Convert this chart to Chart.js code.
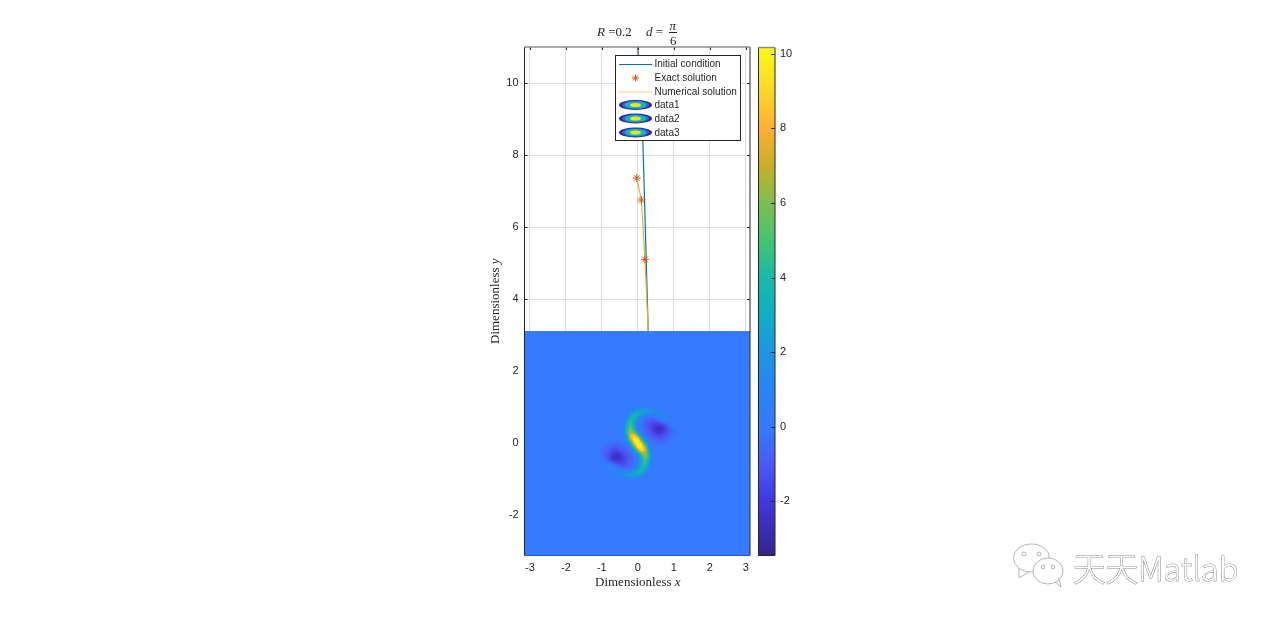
<!DOCTYPE html>
<html>
<head>
<meta charset="utf-8">
<title>R = 0.2, d = pi/6</title>
<script src="https://cdn.jsdelivr.net/npm/chart.js@4/dist/chart.umd.min.js"></script>
<style>
  html, body { margin: 0; padding: 0; background: #fff; overflow: hidden; }
  #main { position: absolute; left: 0; top: 0; }
  #bar { position: absolute; left: 745px; top: 0; }
</style>
</head>
<body>
<canvas id="main" width="1280" height="625"></canvas>
<canvas id="bar" width="60" height="625"></canvas>
<script>
// Axis ticks
const xTicks = [-3, -2, -1, 0, 1, 2, 3];
const yTicks = [-2, 0, 2, 4, 6, 8, 10];
const barTicks = [-2, 0, 2, 4, 6, 8, 10];

// Curves
const initialX = [0.0, 0.14, 0.29];
const initialY = [11, 8.42, 3.11];
const exactX = [-0.03, 0.1, 0.2];
const exactY = [7.36, 6.75, 5.1];
const numericalX = [-0.03, 0.1, 0.2, 0.29];
const numericalY = [7.36, 6.75, 5.1, 3.11];
const contourLabels = ['data1', 'data2', 'data3'];

// Colour scale of the field, value / colour
const colorValues = [-3.45, -2, -1, 0, 1, 2, 3, 4, 5, 6, 7, 8, 9, 10.17];
const colorStops = [
  [53, 35, 140], [65, 55, 220], [75, 90, 245], [53, 122, 255], [40, 132, 245], [30, 150, 225], [15, 175, 195],
  [25, 185, 170], [70, 195, 115], [125, 190, 80], [200, 175, 40], [253, 175, 55], [250, 215, 40], [250, 250, 20]
];

// Field values, rows from y=1 to y=-1, columns from x=-1.1 to x=1.1. Zero everywhere else.
const fieldX = [-1.1, -1, -0.9, -0.8, -0.7, -0.6, -0.5, -0.4, -0.3, -0.2, -0.1, 0, 0.1, 0.2, 0.3, 0.4, 0.5, 0.6, 0.7, 0.8, 0.9, 1, 1.1];
const fieldY = [1, 0.9, 0.8, 0.7, 0.6, 0.5, 0.4, 0.3, 0.2, 0.1, 0, -0.1, -0.2, -0.3, -0.4, -0.5, -0.6, -0.7, -0.8, -0.9, -1];
const fieldRows = [
  [0, 0, 0, 0, 0, 0, 0, 0, 0, 0, 0.2, 0.5, 0.7, 0.7, 0.5, 0.3, 0.1, 0, 0, 0, 0, 0, 0],
  [0, 0, 0, 0, 0, 0, 0, 0, 0, 0.4, 1.5, 2.6, 2.8, 2.6, 2.2, 1.8, 1.2, 0.5, 0.2, 0, 0, 0, 0],
  [0, 0, 0, 0, 0, 0, 0, 0, 0.2, 1.8, 3.6, 3.6, 2.4, 1.5, 1.1, 1, 1.2, 1.4, 0.7, 0.2, 0, 0, 0],
  [0, 0, 0, 0, 0, 0, 0, 0, 1, 3.5, 4, 2, 0.3, -0.3, -0.5, -0.5, -0.3, 0.3, 1, 0.9, 0.3, 0, 0],
  [0, 0, 0, 0, 0, 0, 0, 0.2, 2.2, 4.5, 3, 0.8, -0.2, -0.6, -1, -1.2, -1.2, -0.9, -0.2, 0.4, 0.5, 0.1, 0],
  [0, 0, 0, 0, 0, 0, 0, 0.4, 3.2, 5, 2.5, 0.4, -0.3, -0.8, -1.2, -1.6, -1.9, -1.9, -1.6, -1, -0.2, 0.2, 0],
  [0, 0, 0, 0, 0, 0, 0, 0.6, 4, 5.8, 3, 0.6, -0.3, -0.8, -1.2, -1.7, -2.3, -2.8, -2.2, -1.4, -0.7, -0.1, 0],
  [0, 0, 0, 0, 0, 0, 0, 0.8, 4, 7, 5.5, 2, 0.2, -0.6, -1, -1.4, -1.9, -2.2, -1.8, -1.3, -0.8, -0.3, 0],
  [0, 0, 0, 0, 0, 0, 0, 0.5, 3, 8, 9.5, 6, 1.5, -0.2, -0.7, -1, -1.2, -1.5, -1.3, -1, -0.6, -0.2, 0],
  [0, 0, 0, 0, 0, 0, 0, 0.1, 1.5, 7, 10, 10, 5, 1, -0.2, -0.5, -0.8, -1, -0.9, -0.6, -0.3, 0, 0],
  [0, 0, 0, -0.2, -0.3, -0.4, -0.3, -0.1, 0.5, 3, 9, 10.2, 9, 3, 0.5, -0.1, -0.3, -0.4, -0.3, -0.2, 0, 0, 0],
  [0, 0, -0.3, -0.6, -0.9, -1, -0.8, -0.5, -0.2, 1, 5, 10, 10, 7, 1.5, 0.1, 0, 0, 0, 0, 0, 0, 0],
  [0, -0.2, -0.6, -1, -1.3, -1.5, -1.2, -1, -0.7, -0.2, 1.5, 6, 9.5, 8, 3, 0.5, 0, 0, 0, 0, 0, 0, 0],
  [0, -0.3, -0.8, -1.3, -1.8, -2.2, -1.9, -1.4, -1, -0.6, 0.2, 2, 5.5, 7, 4, 0.8, 0, 0, 0, 0, 0, 0, 0],
  [0, -0.1, -0.7, -1.4, -2.2, -2.8, -2.3, -1.7, -1.2, -0.8, -0.3, 0.6, 3, 5.8, 4, 0.6, 0, 0, 0, 0, 0, 0, 0],
  [0, 0.2, -0.2, -1, -1.6, -1.9, -1.9, -1.6, -1.2, -0.8, -0.3, 0.4, 2.5, 5, 3.2, 0.4, 0, 0, 0, 0, 0, 0, 0],
  [0, 0.1, 0.5, 0.4, -0.2, -0.9, -1.2, -1.2, -1, -0.6, -0.2, 0.8, 3, 4.5, 2.2, 0.2, 0, 0, 0, 0, 0, 0, 0],
  [0, 0, 0.3, 0.9, 1, 0.3, -0.3, -0.5, -0.5, -0.3, 0.3, 2, 4, 3.5, 1, 0, 0, 0, 0, 0, 0, 0, 0],
  [0, 0, 0, 0.2, 0.7, 1.4, 1.2, 1, 1.1, 1.5, 2.4, 3.6, 3.6, 1.8, 0.2, 0, 0, 0, 0, 0, 0, 0, 0],
  [0, 0, 0, 0, 0.2, 0.5, 1.2, 1.8, 2.2, 2.6, 2.8, 2.6, 1.5, 0.4, 0, 0, 0, 0, 0, 0, 0, 0, 0],
  [0, 0, 0, 0, 0, 0, 0.1, 0.3, 0.5, 0.7, 0.7, 0.5, 0.2, 0, 0, 0, 0, 0, 0, 0, 0, 0, 0]
];

const FIELD_TOP = 3.11;
const SANS = '"Liberation Sans", Arial, sans-serif';
const SERIF = '"Liberation Serif", "DejaVu Serif", serif';
const INK = '#262626';

function pairs(xs, ys) {
  return xs.map((x, i) => ({ x: x, y: ys[i] }));
}

function colorFor(v) {
  let i = 0;
  while (i < colorValues.length - 2 && v > colorValues[i + 1]) i++;
  const t = Math.max(0, Math.min(1, (v - colorValues[i]) / (colorValues[i + 1] - colorValues[i])));
  const a = colorStops[i], b = colorStops[i + 1];
  return `rgb(${a[0] + (b[0] - a[0]) * t | 0},${a[1] + (b[1] - a[1]) * t | 0},${a[2] + (b[2] - a[2]) * t | 0})`;
}

// Bilinear lookup in the field table
function fieldValue(x, y) {
  const fx = (x - fieldX[0]) / 0.1, fy = (fieldY[0] - y) / 0.1;
  const c = Math.floor(fx), r = Math.floor(fy);
  if (c < 0 || r < 0 || c >= fieldX.length - 1 || r >= fieldY.length - 1) return 0;
  const tx = fx - c, ty = fy - r;
  const top = fieldRows[r][c] * (1 - tx) + fieldRows[r][c + 1] * tx;
  const bot = fieldRows[r + 1][c] * (1 - tx) + fieldRows[r + 1][c + 1] * tx;
  return top * (1 - ty) + bot * ty;
}

// Mixed upright / italic text run, starts at x
function textRun(ctx, parts, x, y) {
  parts.forEach(p => {
    ctx.font = p[1];
    ctx.fillText(p[0], x, y);
    x += ctx.measureText(p[0]).width;
  });
}

const fieldPlugin = {
  id: 'field',
  beforeDatasetsDraw(chart) {
    const { ctx, chartArea: a, scales: { x, y } } = chart;
    ctx.save();
    const top = y.getPixelForValue(FIELD_TOP);
    ctx.fillStyle = colorFor(0);
    ctx.fillRect(a.left, top, a.width, a.bottom - top);
    const x0 = Math.floor(x.getPixelForValue(fieldX[0])), x1 = Math.ceil(x.getPixelForValue(fieldX[fieldX.length - 1]));
    const y0 = Math.floor(y.getPixelForValue(fieldY[0])), y1 = Math.ceil(y.getPixelForValue(fieldY[fieldY.length - 1]));
    for (let px = x0; px < x1; px++) {
      for (let py = y0; py < y1; py++) {
        ctx.fillStyle = colorFor(fieldValue(x.getValueForPixel(px + 0.5), y.getValueForPixel(py + 0.5)));
        ctx.fillRect(px, py, 1, 1);
      }
    }
    ctx.restore();
  }
};

const framePlugin = {
  id: 'frame',
  afterDatasetsDraw(chart) {
    const { ctx, chartArea: a, scales: { x, y } } = chart;
    const fieldTop = y.getPixelForValue(FIELD_TOP);
    ctx.save();
    ctx.lineWidth = 1;
    ctx.strokeStyle = INK;
    ctx.beginPath();
    xTicks.forEach(t => {
      const p = Math.round(x.getPixelForValue(t)) + 0.5;
      ctx.moveTo(p, a.top); ctx.lineTo(p, a.top + 3);
    });
    yTicks.forEach(t => {
      const p = Math.round(y.getPixelForValue(t)) + 0.5;
      if (p < fieldTop) {
        ctx.moveTo(a.left, p); ctx.lineTo(a.left + 3, p);
        ctx.moveTo(a.right, p); ctx.lineTo(a.right - 3, p);
      }
    });
    ctx.moveTo(a.left, a.top); ctx.lineTo(a.left, a.bottom);
    ctx.moveTo(a.right, a.top); ctx.lineTo(a.right, a.bottom);
    ctx.stroke();
    ctx.strokeStyle = '#1560e0';
    ctx.beginPath(); ctx.moveTo(a.left, a.bottom); ctx.lineTo(a.right, a.bottom); ctx.stroke();
    ctx.strokeStyle = '#8c8c8c';
    ctx.lineWidth = 1.5;
    ctx.beginPath(); ctx.moveTo(a.left, a.top); ctx.lineTo(a.right, a.top); ctx.stroke();
    ctx.restore();
  }
};

const legendPlugin = {
  id: 'boxLegend',
  afterDatasetsDraw(chart) {
    const { ctx } = chart;
    const rows = [64, 78, 91.5, 105, 118.5, 132.5];
    ctx.save();
    ctx.fillStyle = '#fff';
    ctx.strokeStyle = INK;
    ctx.lineWidth = 1;
    ctx.fillRect(615.5, 55.5, 125, 85);
    ctx.strokeRect(615.5, 55.5, 125, 85);
    chart.data.datasets.forEach((ds, i) => {
      const cy = rows[i];
      if (i === 0 || i === 2) {
        ctx.strokeStyle = i === 0 ? '#0072BD' : '#F5D080';
        ctx.lineWidth = 1;
        ctx.beginPath(); ctx.moveTo(619, cy + 0.5); ctx.lineTo(652, cy + 0.5); ctx.stroke();
      } else if (i === 1) {
        ctx.strokeStyle = '#D95319';
        ctx.beginPath();
        for (let k = 0; k < 4; k++) {
          const an = k * Math.PI / 4;
          ctx.moveTo(635.5 - 3.5 * Math.cos(an), cy - 3.5 * Math.sin(an));
          ctx.lineTo(635.5 + 3.5 * Math.cos(an), cy + 3.5 * Math.sin(an));
        }
        ctx.stroke();
      } else {
        [[16.5, 5, '#352a87'], [13.5, 4.2, '#2a5fe0'], [11, 3.5, '#14b8b8'], [5.5, 2, '#f5e614']].forEach(e => {
          ctx.fillStyle = e[2];
          ctx.beginPath(); ctx.ellipse(635.5, cy, e[0], e[1], 0, 0, Math.PI * 2); ctx.fill();
        });
      }
      ctx.fillStyle = INK;
      ctx.font = '10px ' + SANS;
      ctx.textAlign = 'left';
      ctx.textBaseline = 'middle';
      ctx.fillText(ds.label, 654.5, cy + 0.5);
    });
    ctx.restore();
  }
};

const textPlugin = {
  id: 'mathText',
  afterDraw(chart) {
    const { ctx } = chart;
    const up = '13px ' + SERIF, it = 'italic 13px ' + SERIF;
    ctx.save();
    ctx.fillStyle = INK;
    ctx.textBaseline = 'alphabetic';
    ctx.textAlign = 'left';
    // title
    textRun(ctx, [['R', it], [' =0.2', up]], 597, 36);
    textRun(ctx, [['d', it], [' =', up]], 646, 36);
    ctx.font = it;
    ctx.fillText('π', 669.5, 30);
    ctx.font = up;
    ctx.fillText('6', 670, 45);
    ctx.beginPath(); ctx.moveTo(669, 32.5); ctx.lineTo(677, 32.5); ctx.strokeStyle = INK; ctx.lineWidth = 1; ctx.stroke();
    // axis titles
    textRun(ctx, [['Dimensionless ', up], ['x', it]], 595, 586);
    ctx.translate(499, 344);
    ctx.rotate(-Math.PI / 2);
    textRun(ctx, [['Dimensionless ', up], ['y', it]], 0, 0);
    ctx.restore();
    drawWatermark(ctx);
  }
};

function drawWatermark(ctx) {
  ctx.save();
  ctx.strokeStyle = '#b5b5b5';
  ctx.fillStyle = '#fff';
  ctx.lineWidth = 1;
  // big bubble then small bubble, each with its tail
  ctx.beginPath();
  ctx.ellipse(1031.5, 558, 18, 14, 0, 0, Math.PI * 2);
  ctx.moveTo(1019, 568); ctx.lineTo(1019, 578); ctx.lineTo(1029, 572);
  ctx.fill(); ctx.stroke();
  ctx.beginPath();
  ctx.ellipse(1048, 571, 15, 13, 0, 0, Math.PI * 2);
  ctx.moveTo(1055, 582); ctx.lineTo(1061, 587); ctx.lineTo(1059, 578);
  ctx.fill(); ctx.stroke();
  [[1024, 554, 2], [1039, 554, 2], [1043, 567, 1.8], [1053, 567, 1.8]].forEach(e => {
    ctx.beginPath(); ctx.arc(e[0], e[1], e[2], 0, Math.PI * 2); ctx.stroke();
  });
  ctx.font = '300 32.5px "Noto Sans CJK SC", "Noto Sans", sans-serif';
  ctx.textAlign = 'left';
  ctx.textBaseline = 'alphabetic';
  ctx.lineWidth = 1;
  ctx.strokeStyle = '#8a8a8a';
  ctx.strokeText('天天Matlab', 1073, 581);
  ctx.fillText('天天Matlab', 1073, 581);
  ctx.restore();
}

new Chart(document.getElementById('main'), {
  type: 'scatter',
  data: {
    datasets: [
      { label: 'Initial condition', data: pairs(initialX, initialY), showLine: true, borderColor: '#0072BD', borderWidth: 1.2, pointRadius: 0, order: 3 },
      { label: 'Exact solution', data: pairs(exactX, exactY), showLine: false, pointStyle: 'star', pointRadius: 4, borderColor: '#D95319', borderWidth: 1, order: 1 },
      { label: 'Numerical solution', data: pairs(numericalX, numericalY), showLine: true, borderColor: '#EDB120', borderWidth: 1.2, pointRadius: 0, order: 2 },
      { label: contourLabels[0], data: [] },
      { label: contourLabels[1], data: [] },
      { label: contourLabels[2], data: [] }
    ]
  },
  options: {
    responsive: false,
    animation: false,
    devicePixelRatio: 1,
    layout: { autoPadding: false, padding: { left: 484.5, right: 530, top: 47, bottom: 39.5 } },
    plugins: { legend: { display: false }, title: { display: false }, tooltip: { enabled: false } },
    scales: {
      x: {
        type: 'linear', min: -3.15, max: 3.12,
        afterBuildTicks: s => { s.ticks = xTicks.map(v => ({ value: v })); },
        afterFit: s => { s.height = 30; },
        grid: { color: '#dedede', drawTicks: false },
        border: { display: false },
        ticks: { color: INK, font: { family: SANS, size: 11 }, padding: 6, maxRotation: 0 }
      },
      y: {
        type: 'linear', min: -3.125, max: 11,
        afterBuildTicks: s => { s.ticks = yTicks.map(v => ({ value: v })); },
        afterFit: s => { s.width = 40; },
        grid: { color: '#dedede', drawTicks: false },
        border: { display: false },
        ticks: { color: INK, font: { family: SANS, size: 11 }, padding: 6 }
      }
    }
  },
  plugins: [fieldPlugin, framePlugin, legendPlugin, textPlugin]
});

// Colour bar, a single floating bar over the whole range
const barFrame = {
  id: 'barFrame',
  afterDatasetsDraw(chart) {
    const { ctx, chartArea: a, scales: { y } } = chart;
    ctx.save();
    ctx.strokeStyle = INK;
    ctx.lineWidth = 1;
    ctx.beginPath();
    barTicks.forEach(t => {
      const p = Math.round(y.getPixelForValue(t)) + 0.5;
      ctx.moveTo(a.right, p); ctx.lineTo(a.right - 4, p);
    });
    ctx.moveTo(a.left, a.top); ctx.lineTo(a.left, a.bottom);
    ctx.moveTo(a.right, a.top); ctx.lineTo(a.right, a.bottom);
    ctx.moveTo(a.left, a.bottom); ctx.lineTo(a.right, a.bottom);
    ctx.stroke();
    ctx.strokeStyle = '#8c8c8c';
    ctx.lineWidth = 1.5;
    ctx.beginPath(); ctx.moveTo(a.left, a.top); ctx.lineTo(a.right, a.top); ctx.stroke();
    ctx.restore();
  }
};

new Chart(document.getElementById('bar'), {
  type: 'bar',
  data: {
    labels: ['value'],
    datasets: [{
      data: [[colorValues[0], colorValues[colorValues.length - 1]]],
      barPercentage: 1,
      categoryPercentage: 1,
      backgroundColor: c => {
        const area = c.chart.chartArea;
        const y = c.chart.scales.y;
        if (!area) return colorFor(0);
        const g = c.chart.ctx.createLinearGradient(0, area.bottom, 0, area.top);
        colorValues.forEach(v => {
          g.addColorStop((y.getPixelForValue(v) - area.bottom) / (area.top - area.bottom), colorFor(v));
        });
        return g;
      }
    }]
  },
  options: {
    responsive: false,
    animation: false,
    devicePixelRatio: 1,
    layout: { autoPadding: false, padding: { left: 13.5, right: 0, top: 47.5, bottom: 69.5 } },
    plugins: { legend: { display: false }, title: { display: false }, tooltip: { enabled: false } },
    scales: {
      x: { display: false },
      y: {
        position: 'right',
        min: colorValues[0], max: colorValues[colorValues.length - 1],
        afterBuildTicks: s => { s.ticks = barTicks.map(v => ({ value: v })); },
        afterFit: s => { s.width = 30; },
        grid: { display: false, drawTicks: false },
        border: { display: false },
        ticks: { color: INK, font: { family: SANS, size: 11 }, padding: 5 }
      }
    }
  },
  plugins: [barFrame]
});
</script>
</body>
</html>
